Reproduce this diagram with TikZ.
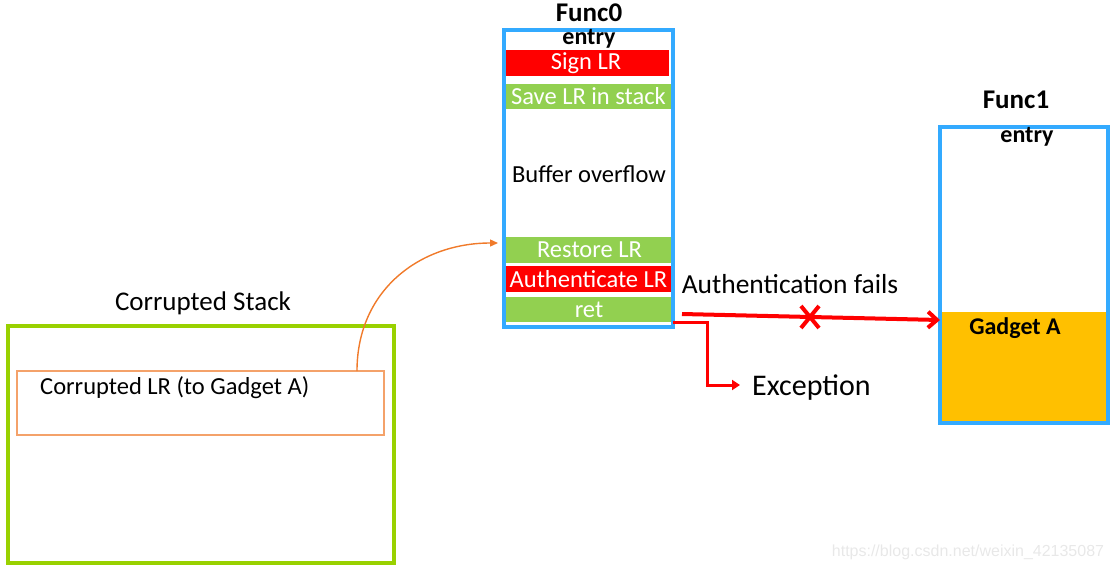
\documentclass[tikz,border=0pt]{standalone}
\usepackage{fontspec}
\setmainfont{Carlito}
\newfontfamily\wmfont{Liberation Sans}
\usetikzlibrary{arrows.meta,calc}
\definecolor{fblue}{HTML}{33AAFF}
\definecolor{bandgreen}{HTML}{92D050}
\definecolor{stackgreen}{HTML}{99D100}
\definecolor{lrorange}{HTML}{F4A26A}
\definecolor{curveorange}{HTML}{F07A2A}
\definecolor{gold}{HTML}{FFC000}
\definecolor{wm}{HTML}{E8E8E8}
\tikzset{
  funcbox/.style={draw=fblue,line width=3.5pt,minimum width=169pt,minimum height=297pt,inner sep=0pt},
  band/.style={minimum height=26pt,inner sep=0pt,text=white,font=\fontsize{24.5}{26}\selectfont},
  redband/.style={band,fill=red},
  greenband/.style={band,fill=bandgreen},
  boldlbl/.style={font=\fontsize{24}{26}\selectfont\bfseries,inner sep=0pt},
  titlelbl/.style={font=\fontsize{27}{29}\selectfont\bfseries,inner sep=0pt},
  plain/.style={font=\fontsize{24.5}{26}\selectfont,inner sep=0pt},
}
\begin{document}
\begin{tikzpicture}[x=1pt,y=-1pt]
\useasboundingbox (0,0) rectangle (1114,571);
% Func0
\node[titlelbl] (f0t) at (589,13) {Func0};
\node[redband,minimum width=166pt] (sign) at (586,63) {Sign LR};
\node[greenband,minimum width=165pt,minimum height=25pt] (save) at (588.5,96.5) {Save LR in stack};
\node[greenband,minimum width=167pt] (restore) at (589.5,250) {Restore LR};
\node[redband,minimum width=167pt] (auth) at (588.5,279) {Authenticate LR};
\node[greenband,minimum width=166pt,minimum height=25pt] (ret) at (589,309.5) {ret};
\node[funcbox] (f0) at (588.5,178.5) {};
\node[boldlbl] (f0e) at (589,39) {entry};
\node[plain] (buf) at (589,174) {Buffer overflow};
% Func1
\node[titlelbl] (f1t) at (1016,100) {Func1};
\node[fill=gold,minimum width=168pt,minimum height=111pt,inner sep=0pt] (gadget) at (1024,367.5) {};
\node[funcbox,minimum width=168pt,minimum height=296pt] (f1) at (1024,275) {};
\node[boldlbl] (f1e) at (1027,137) {entry};
\node[boldlbl] (ga) at (1015,328) {Gadget A};
% Corrupted stack
\node[font=\fontsize{27}{29}\selectfont,inner sep=0pt] (cst) at (203,303) {Corrupted Stack};
\node[draw=stackgreen,line width=3.5pt,minimum width=386pt,minimum height=237pt,inner sep=0pt] (stack) at (201,444.5) {};
\node[draw=lrorange,line width=1.3pt,minimum width=367pt,minimum height=64pt,inner sep=0pt] (lr) at (200.5,403) {};
\node[plain,anchor=west] (lrt) at (40,388) {Corrupted LR (to Gadget A)};
% orange curve
\coordinate (cs) at (357,371);
\coordinate (ce) at (498,243);
\draw[curveorange,line width=1.4pt,-{Triangle[length=8pt,width=7pt]}] (cs) .. controls (357,290) and (420,243) .. (ce);
% authentication fails arrow
\coordinate (rs) at (682,314);
\coordinate (ge) at (940,320);
\draw[red,line width=4pt,-{Straight Barb[length=9pt,width=16pt]}] (rs) -- (ge);
\node[font=\fontsize{27.5}{29}\selectfont,inner sep=0pt] (af) at (790,284) {Authentication fails};
\coordinate (xc) at (810,317);
\draw[red,line width=4pt] ($(xc)+(-9,-11)$) -- ($(xc)+(9,11)$) ($(xc)+(9,-11)$) -- ($(xc)+(-9,11)$);
% exception
\node[font=\fontsize{30}{32}\selectfont,inner sep=0pt,anchor=west] (exc) at (752,388) {Exception};
\coordinate (es) at (673,322.5);
\draw[red,line width=3pt,-{Triangle[length=8pt,width=10pt]}] (es) -- (707,322.5) -- (707,385) -- ($(exc.west)+(-12,-3)$);
% watermark
\node[wm,font=\wmfont\fontsize{16}{18}\selectfont,inner sep=0pt] (wmk) at (968,552) {https://blog.csdn.net/weixin\_42135087};
\end{tikzpicture}
\end{document}
